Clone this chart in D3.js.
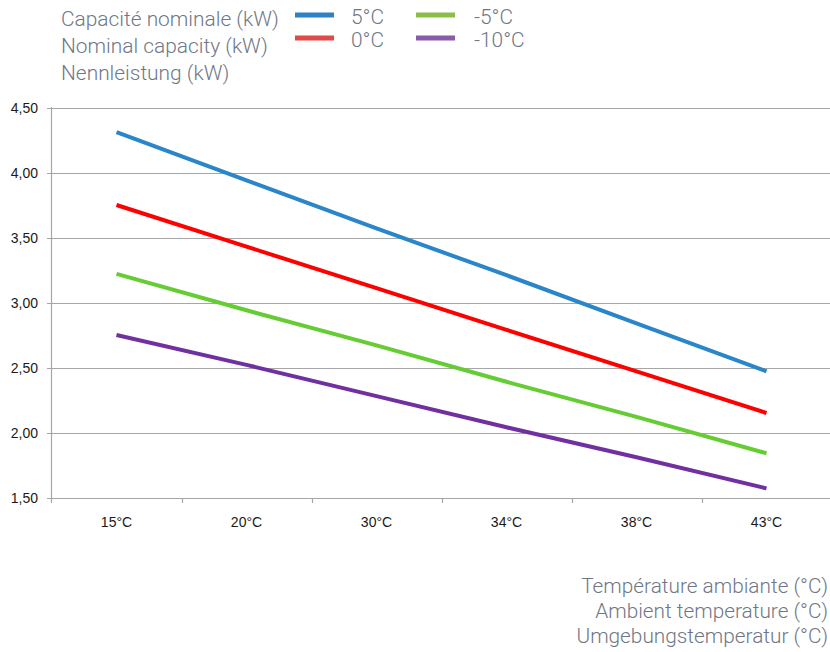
<!DOCTYPE html>
<html><head><meta charset="utf-8">
<script src="https://cdn.jsdelivr.net/npm/d3@7"></script>
<style>body{margin:0;background:#fff}svg{display:block}</style>
</head><body>
<svg id="c" width="830" height="652"></svg>
<script>
const categories = ["15°C","20°C","30°C","34°C","38°C","43°C"];
const seriesNames = ["5°C","0°C","-5°C","-10°C"];
const s5 = [4.31, 3.94, 3.57, 3.21, 2.84, 2.47];
const s0 = [3.75, 3.43, 3.11, 2.79, 2.47, 2.15];
const sm5 = [3.22, 2.94, 2.67, 2.39, 2.12, 1.84];
const sm10 = [2.75, 2.52, 2.28, 2.04, 1.81, 1.57];
const yTicks = [1.5, 2.0, 2.5, 3.0, 3.5, 4.0, 4.5];
const legendTitle = ["Capacité nominale (kW)","Nominal capacity (kW)","Nennleistung (kW)"];
const xTitle = ["Température ambiante (°C)","Ambient temperature (°C)","Umgebungstemperatur (°C)"];

const lineColors = ["#2a86c8","#ff0000","#66cc33","#7030a0"];
const legendColors = ["#2c82c4","#e04a4a","#8cbd48","#8a5ca8"];
const series = [s5, s0, sm5, sm10];

const svg = d3.select("#c");
const x = d3.scaleBand().domain(categories).range([51.5, 831.5]);
const y = d3.scaleLinear().domain([1.5, 4.5]).range([497.5, 107.5]);

// gridlines
svg.append("g").selectAll("line").data(yTicks).join("line")
  .attr("x1", 47).attr("x2", 830)
  .attr("y1", d => Math.round(y(d)) + 0.5).attr("y2", d => Math.round(y(d)) + 0.5)
  .attr("stroke", "#a6a6a6").attr("stroke-width", 1.2);

// y axis line
svg.append("line").attr("x1", 51.5).attr("x2", 51.5).attr("y1", 107).attr("y2", 503)
  .attr("stroke", "#a6a6a6").attr("stroke-width", 1.2);

// x tick marks
const bounds = categories.map(c => x(c)).concat([x.range()[1]]);
svg.append("g").selectAll("line").data(bounds.slice(1, 6)).join("line")
  .attr("x1", d => Math.round(d) + 0.5).attr("x2", d => Math.round(d) + 0.5)
  .attr("y1", 498).attr("y2", 503)
  .attr("stroke", "#a6a6a6").attr("stroke-width", 1.2);

const tickFont = "'Liberation Sans Narrow','Liberation Sans',sans-serif";
// y labels
svg.append("g").selectAll("text").data(yTicks).join("text")
  .attr("x", 38).attr("y", d => y(d) + 5)
  .attr("text-anchor", "end").attr("font-family", tickFont).attr("font-size", 14)
  .attr("fill", "#1a1a1a")
  .text(d => d3.format(".2f")(d).replace(".", ","));

// x labels
svg.append("g").selectAll("text").data(categories).join("text")
  .attr("x", d => x(d) + x.bandwidth() / 2).attr("y", 527)
  .attr("text-anchor", "middle").attr("font-family", tickFont).attr("font-size", 14)
  .attr("fill", "#1a1a1a").text(d => d);

// lines
const line = d3.line().x((d, i) => x(categories[i]) + x.bandwidth() / 2).y(d => y(d));
svg.append("g").selectAll("path").data(series).join("path")
  .attr("d", d => line(d)).attr("fill", "none")
  .attr("stroke", (d, i) => lineColors[i]).attr("stroke-width", 4);

// legend title
const txtFont = "Roboto, 'Noto Sans', sans-serif";
const gray = "#6f7785";
const fs = 20.9;
svg.append("g").selectAll("text").data(legendTitle).join("text")
  .attr("x", 61).attr("y", (d, i) => 26 + i * 26.8)
  .attr("font-family", txtFont).attr("font-size", fs).attr("font-weight", 300)
  .attr("fill", gray).text(d => d);

// legend items
const legPos = [[295, 15], [295, 38], [416, 15], [416, 38]];
const lg = svg.append("g");
seriesNames.forEach((n, i) => {
  lg.append("rect").attr("x", legPos[i][0]).attr("y", legPos[i][1] - 2.5)
    .attr("width", 39).attr("height", 5).attr("fill", legendColors[i]);
  lg.append("text").attr("x", legPos[i][0] + (i < 2 ? 56 : 58)).attr("y", legPos[i][1] + 9)
    .attr("font-family", txtFont).attr("font-size", fs).attr("font-weight", 300)
    .attr("fill", gray).text(n);
});

// x title
svg.append("g").selectAll("text").data(xTitle).join("text")
  .attr("x", 828).attr("y", (d, i) => 593 + i * 25)
  .attr("text-anchor", "end")
  .attr("font-family", txtFont).attr("font-size", 20.8).attr("font-weight", 300)
  .attr("fill", gray).text(d => d);
</script>
</body></html>
